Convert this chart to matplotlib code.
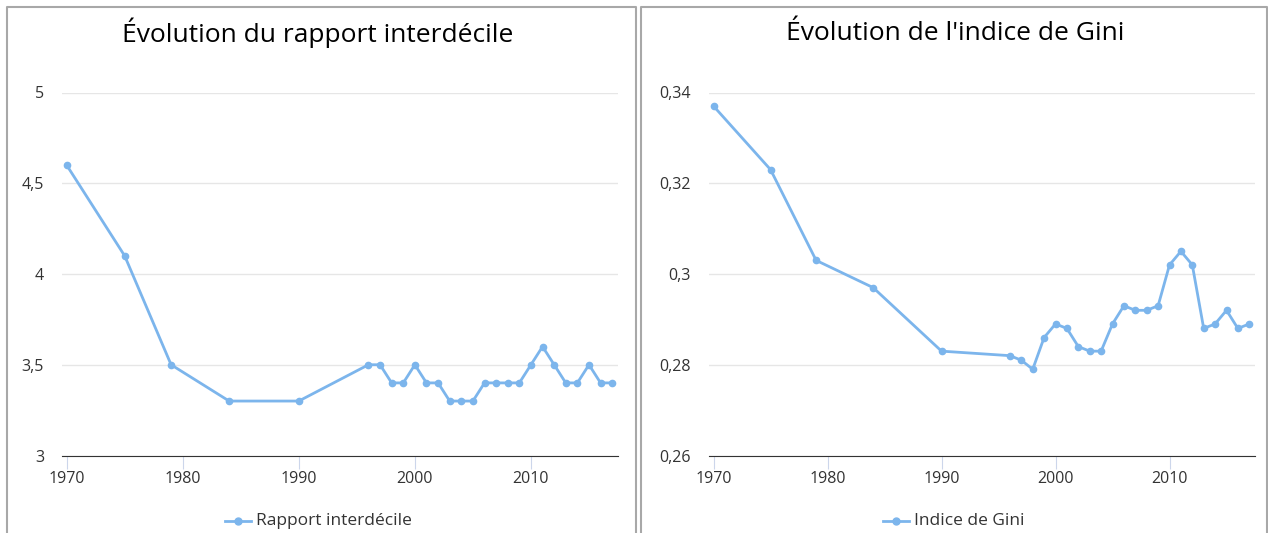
import matplotlib.pyplot as plt
from matplotlib.lines import Line2D
from matplotlib.ticker import FuncFormatter

plt.rcParams['font.family'] = ['Open Sans', 'DejaVu Sans']

years = [1970, 1975, 1979, 1984, 1990, 1996, 1997, 1998, 1999, 2000, 2001, 2002,
         2003, 2004, 2005, 2006, 2007, 2008, 2009, 2010, 2011, 2012, 2013, 2014,
         2015, 2016, 2017]
interdecile = [4.6, 4.1, 3.5, 3.3, 3.3, 3.5, 3.5, 3.4, 3.4, 3.5, 3.4, 3.4,
               3.3, 3.3, 3.3, 3.4, 3.4, 3.4, 3.4, 3.5, 3.6, 3.5, 3.4, 3.4,
               3.5, 3.4, 3.4]
gini = [0.337, 0.323, 0.303, 0.297, 0.283, 0.282, 0.281, 0.279, 0.286, 0.289,
        0.288, 0.284, 0.283, 0.283, 0.289, 0.293, 0.292, 0.292, 0.293, 0.302,
        0.305, 0.302, 0.288, 0.289, 0.292, 0.288, 0.289]

left_ticks = [3, 3.5, 4, 4.5, 5]
right_ticks = [0.26, 0.28, 0.3, 0.32, 0.34]
x_ticks = [1970, 1980, 1990, 2000, 2010]

blue = '#7cb5ec'
W, H = 1268, 533

fig = plt.figure(figsize=(W / 100, H / 100), dpi=100)


def comma(v, pos):
    return ('%g' % v).replace('.', ',')


def panel(rect, ys, ticks, title, label, tx, box):
    ax = fig.add_axes(rect)
    ax.plot(years, ys, color=blue, lw=2, marker='o', ms=4.5, clip_on=False, zorder=3)
    ax.set_xlim(1969.6, 2017.5)
    ax.set_ylim(ticks[0], ticks[-1])
    ax.set_yticks(ticks)
    ax.set_xticks(x_ticks)
    ax.yaxis.set_major_formatter(FuncFormatter(comma))
    ax.grid(axis='y', color='#e6e6e6', lw=1)
    ax.set_axisbelow(True)
    for s in ['top', 'right', 'left']:
        ax.spines[s].set_visible(False)
    ax.spines['bottom'].set_color('#333333')
    ax.tick_params(axis='y', length=0, pad=13, labelsize=11.5, labelcolor='#333333')
    ax.tick_params(axis='x', length=9, color='#ccd6eb', labelsize=11.5,
                   labelcolor='#333333', pad=2)
    fig.text(tx / W, 1 - 33 / H, title, ha='center', va='center', fontsize=19,
             color='#000000', fontweight='medium')
    # legend
    x0 = tx - 93 if label.startswith('R') else tx - 72
    fig.add_artist(Line2D([x0 / W, (x0 + 26) / W], [1 - 521 / H] * 2, color=blue,
                          lw=2))
    fig.add_artist(Line2D([(x0 + 13) / W], [1 - 521 / H], color=blue, marker='o',
                          ms=5, lw=0))
    fig.text((x0 + 31) / W, 1 - 521 / H, label, ha='left', va='center',
             fontsize=12.5, color='#333333')
    # panel border
    bx0, bx1 = box
    fig.add_artist(Line2D([bx0 / W, bx0 / W, bx1 / W, bx1 / W],
                          [0, 1 - 7 / H, 1 - 7 / H, 0], color='#a8a8a8', lw=1.5))
    return ax


panel([62 / W, 1 - 455.5 / H, 556 / W, 363 / H], interdecile, left_ticks,
      'Évolution du rapport interdécile', 'Rapport interdécile', 318, (7, 636))
panel([709 / W, 1 - 455.5 / H, 546 / W, 363 / H], gini, right_ticks,
      "Évolution de l'indice de Gini", 'Indice de Gini', 955, (641, 1267))

fig.savefig('out.png', dpi=100)
